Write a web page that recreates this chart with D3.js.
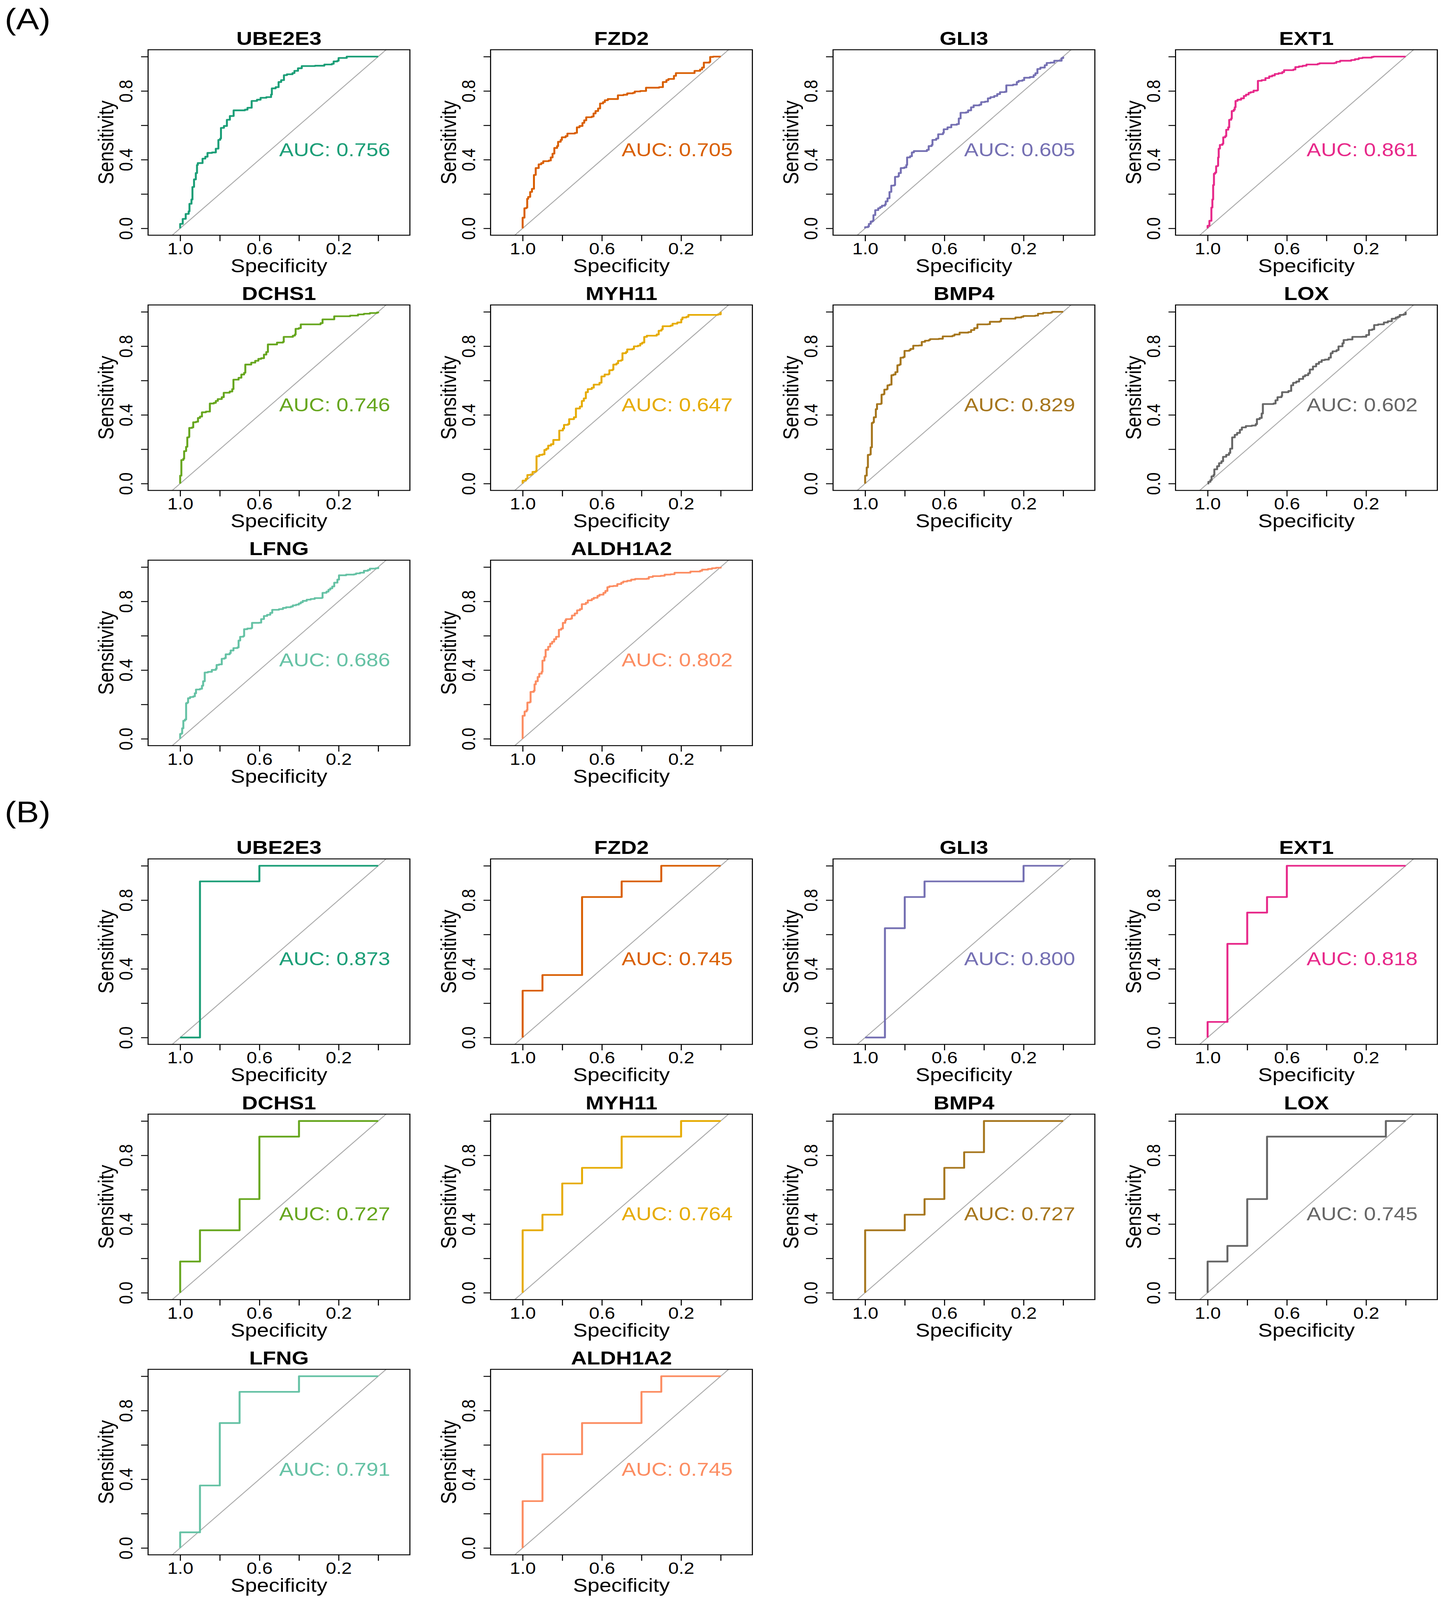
<!DOCTYPE html>
<html>
<head>
<meta charset="utf-8">
<script src="https://cdnjs.cloudflare.com/ajax/libs/d3/7.8.5/d3.min.js"></script>
<style>
  html, body { margin: 0; padding: 0; background: #fff; overflow: hidden; }
  svg { display: block; font-family: "Liberation Sans", Arial, Helvetica, sans-serif; }
</style>
</head>
<body>
<div id="chart"></div>
<script>
// gene panels, same order in (A) and (B)
var genes = ["UBE2E3", "FZD2", "GLI3", "EXT1", "DCHS1", "MYH11", "BMP4", "LOX", "LFNG", "ALDH1A2"]
var aucA = ["0.756", "0.705", "0.605", "0.861", "0.746", "0.647", "0.829", "0.602", "0.686", "0.802"]
var aucB = ["0.873", "0.745", "0.800", "0.818", "0.727", "0.764", "0.727", "0.745", "0.791", "0.745"]
var palette = ["#1B9E77", "#D95F02", "#7570B3", "#E7298A", "#66A61E", "#E6AB02", "#A6761D", "#666666", "#66C2A5", "#FC8D62"]

var specTicks = [1.0, 0.8, 0.6, 0.4, 0.2, 0.0]
var specLabels = [1.0, 0.6, 0.2]
var sensTicks = [0.0, 0.2, 0.4, 0.6, 0.8, 1.0]
var sensLabels = [0.0, 0.4, 0.8]

// ROC points [specificity, sensitivity], (A) set
var rocA_UBE2E3 = [[1,0],[1,.026],[.987,.055],[.972,.084],[.957,.099],[.953,.143],[.943,.168],[.938,.241],[.930,.285],[.921,.322],[.915,.369],[.911,.380],[.892,.380],[.887,.406],[.873,.417],[.862,.439],[.839,.442],[.820,.464],[.807,.515],[.798,.523],[.794,.585],[.779,.596],[.764,.632],[.749,.654],[.730,.687],[.673,.691],[.660,.702],[.647,.702],[.639,.742],[.612,.749],[.594,.760],[.565,.764],[.541,.779],[.537,.815],[.518,.822],[.503,.852],[.490,.863],[.476,.892],[.461,.897],[.433,.904],[.423,.917],[.405,.932],[.386,.945],[.319,.947],[.272,.954],[.234,.958],[.225,.972],[.206,.976],[.200,.992],[.159,.994],[.159,1],[0,1]]
var rocA_FZD2 = [[1,0],[1,.062],[.991,.069],[.991,.117],[.981,.121],[.977,.172],[.972,.183],[.962,.212],[.953,.230],[.943,.311],[.934,.318],[.934,.351],[.919,.373],[.906,.380],[.896,.391],[.868,.395],[.858,.413],[.849,.435],[.840,.468],[.826,.479],[.821,.504],[.808,.515],[.802,.530],[.783,.537],[.774,.552],[.736,.556],[.726,.588],[.713,.596],[.698,.614],[.689,.629],[.679,.647],[.651,.651],[.642,.669],[.632,.683],[.619,.698],[.609,.727],[.594,.735],[.585,.746],[.570,.753],[.528,.753],[.519,.775],[.491,.778],[.472,.786],[.443,.789],[.434,.797],[.406,.800],[.377,.819],[.311,.822],[.292,.852],[.274,.863],[.264,.870],[.236,.888],[.226,.904],[.142,.904],[.132,.917],[.104,.925],[.094,.936],[.085,.965],[.057,.969],[.053,.998],[.038,1],[0,1]]
var rocA_GLI3 = [[1,0],[1,.007],[.985,.011],[.981,.026],[.972,.040],[.962,.044],[.958,.077],[.949,.106],[.934,.117],[.924,.124],[.915,.132],[.900,.139],[.896,.157],[.887,.175],[.877,.212],[.868,.249],[.853,.252],[.849,.300],[.834,.303],[.830,.322],[.820,.351],[.802,.355],[.792,.369],[.788,.413],[.773,.420],[.764,.442],[.754,.450],[.688,.457],[.679,.479],[.664,.486],[.660,.515],[.641,.523],[.631,.548],[.607,.556],[.603,.577],[.584,.588],[.565,.603],[.537,.607],[.527,.640],[.518,.673],[.490,.676],[.480,.687],[.465,.705],[.452,.716],[.423,.720],[.414,.735],[.395,.738],[.380,.757],[.367,.764],[.348,.771],[.333,.782],[.319,.793],[.295,.795],[.287,.833],[.253,.837],[.234,.852],[.225,.859],[.206,.863],[.197,.877],[.168,.881],[.149,.892],[.140,.903],[.130,.928],[.115,.936],[.093,.950],[.083,.963],[.064,.965],[.045,.976],[.017,.976],[.008,.991],[0,1]]
var rocA_EXT1 = [[1,0],[1,.015],[.991,.026],[.991,.044],[.981,.121],[.976,.168],[.972,.252],[.968,.318],[.962,.325],[.957,.362],[.949,.365],[.947,.413],[.944,.464],[.938,.486],[.925,.493],[.921,.530],[.911,.537],[.906,.574],[.896,.588],[.891,.632],[.881,.640],[.878,.683],[.868,.691],[.863,.705],[.859,.742],[.849,.749],[.831,.757],[.817,.771],[.806,.779],[.793,.789],[.783,.793],[.768,.802],[.750,.804],[.746,.859],[.727,.863],[.708,.875],[.689,.885],[.674,.890],[.661,.899],[.642,.903],[.623,.910],[.614,.921],[.567,.925],[.557,.939],[.539,.943],[.520,.947],[.501,.954],[.444,.958],[.435,.961],[.360,.963],[.350,.970],[.331,.976],[.275,.980],[.256,.985],[.237,.991],[.218,.994],[.171,.998],[.162,1],[0,1]]
var rocA_DCHS1 = [[1,0],[1,.046],[.994,.050],[.994,.137],[.984,.145],[.980,.189],[.970,.214],[.964,.269],[.956,.273],[.954,.324],[.940,.327],[.934,.357],[.920,.360],[.910,.382],[.900,.390],[.890,.415],[.870,.419],[.850,.466],[.830,.470],[.820,.481],[.810,.492],[.790,.503],[.780,.529],[.750,.536],[.737,.550],[.731,.605],[.705,.616],[.691,.635],[.677,.645],[.671,.693],[.641,.704],[.621,.715],[.605,.726],[.591,.730],[.577,.751],[.565,.766],[.557,.810],[.511,.821],[.481,.825],[.477,.854],[.431,.861],[.421,.868],[.417,.901],[.401,.905],[.391,.927],[.291,.934],[.281,.956],[.222,.963],[.222,.974],[.162,.974],[.142,.978],[.102,.985],[.072,.989],[.042,.993],[.006,.996],[0,1]]
var rocA_MYH11 = [[1,0],[1,.017],[.984,.028],[.976,.050],[.960,.053],[.950,.068],[.934,.072],[.930,.159],[.916,.167],[.900,.170],[.890,.196],[.880,.203],[.871,.221],[.857,.229],[.845,.254],[.825,.254],[.815,.309],[.797,.320],[.791,.342],[.771,.346],[.765,.375],[.741,.386],[.731,.437],[.711,.448],[.701,.481],[.691,.496],[.681,.532],[.671,.550],[.651,.558],[.641,.576],[.612,.587],[.602,.624],[.586,.635],[.566,.638],[.562,.660],[.546,.664],[.542,.693],[.526,.700],[.518,.715],[.502,.719],[.496,.759],[.478,.766],[.472,.781],[.446,.784],[.438,.799],[.418,.803],[.406,.814],[.396,.821],[.386,.854],[.373,.861],[.323,.868],[.313,.890],[.299,.898],[.293,.916],[.253,.920],[.243,.931],[.219,.938],[.199,.956],[.193,.967],[.173,.971],[.163,.982],[.014,.985],[0,1]]
var rocA_BMP4 = [[1,0],[1,.046],[.992,.050],[.992,.094],[.986,.097],[.986,.167],[.976,.170],[.972,.211],[.966,.214],[.966,.353],[.960,.357],[.956,.386],[.946,.390],[.946,.433],[.940,.437],[.940,.463],[.920,.466],[.917,.518],[.907,.521],[.903,.547],[.891,.550],[.887,.572],[.877,.576],[.867,.631],[.857,.635],[.847,.649],[.837,.689],[.827,.693],[.821,.733],[.807,.737],[.801,.773],[.777,.777],[.771,.784],[.757,.803],[.728,.804],[.714,.825],[.698,.832],[.678,.836],[.672,.841],[.628,.843],[.608,.857],[.559,.861],[.549,.868],[.523,.879],[.479,.882],[.465,.894],[.449,.905],[.433,.927],[.380,.928],[.370,.942],[.320,.945],[.314,.960],[.250,.960],[.241,.967],[.211,.971],[.201,.976],[.141,.978],[.127,.989],[.101,.994],[.062,.996],[.056,1],[0,1]]
var rocA_LOX = [[1,0],[.996,.010],[.986,.020],[.980,.042],[.970,.050],[.966,.083],[.952,.101],[.942,.119],[.930,.130],[.922,.156],[.906,.167],[.892,.178],[.886,.203],[.876,.269],[.863,.284],[.851,.295],[.837,.313],[.827,.327],[.807,.335],[.777,.338],[.757,.346],[.751,.375],[.737,.382],[.727,.408],[.721,.463],[.667,.466],[.657,.485],[.647,.503],[.627,.510],[.624,.532],[.592,.539],[.578,.572],[.568,.587],[.552,.594],[.538,.609],[.518,.624],[.508,.631],[.492,.642],[.484,.664],[.468,.682],[.452,.697],[.438,.708],[.424,.719],[.408,.722],[.388,.733],[.378,.759],[.369,.770],[.349,.777],[.339,.799],[.319,.817],[.313,.836],[.293,.839],[.269,.854],[.219,.855],[.199,.865],[.185,.894],[.169,.898],[.159,.923],[.139,.927],[.110,.938],[.090,.945],[.070,.960],[.050,.967],[.040,.971],[.030,.982],[.010,.985],[0,1]]
var rocA_LFNG = [[1,0],[1,.028],[.994,.031],[.990,.061],[.984,.064],[.984,.105],[.976,.112],[.970,.207],[.964,.211],[.960,.236],[.950,.243],[.934,.247],[.926,.265],[.920,.287],[.900,.291],[.890,.309],[.884,.335],[.876,.386],[.860,.390],[.840,.401],[.820,.408],[.816,.430],[.804,.433],[.790,.466],[.776,.470],[.770,.492],[.750,.499],[.745,.514],[.731,.528],[.711,.532],[.705,.572],[.697,.594],[.681,.598],[.677,.638],[.661,.642],[.641,.645],[.637,.675],[.601,.676],[.591,.697],[.577,.715],[.561,.722],[.545,.733],[.535,.751],[.501,.755],[.481,.762],[.465,.766],[.441,.770],[.431,.777],[.415,.781],[.401,.788],[.391,.795],[.381,.803],[.361,.810],[.341,.814],[.321,.819],[.285,.821],[.281,.850],[.261,.857],[.251,.868],[.242,.876],[.232,.887],[.222,.909],[.206,.927],[.198,.952],[.162,.956],[.122,.958],[.112,.963],[.092,.967],[.072,.978],[.052,.983],[.042,.991],[.012,.993],[0,1]]
var rocA_ALDH1A2 = [[1,0],[1,.134],[.990,.141],[.990,.159],[.980,.167],[.976,.211],[.964,.214],[.960,.273],[.944,.280],[.940,.317],[.934,.335],[.924,.360],[.916,.379],[.904,.390],[.900,.455],[.890,.477],[.884,.518],[.871,.536],[.861,.554],[.851,.565],[.841,.580],[.831,.594],[.817,.635],[.805,.642],[.797,.675],[.785,.689],[.781,.697],[.757,.700],[.751,.718],[.737,.730],[.725,.748],[.711,.755],[.701,.784],[.681,.792],[.671,.806],[.651,.814],[.641,.821],[.622,.832],[.612,.839],[.592,.850],[.582,.861],[.572,.883],[.562,.888],[.542,.890],[.522,.901],[.502,.909],[.492,.916],[.472,.920],[.452,.927],[.432,.931],[.373,.932],[.363,.942],[.343,.947],[.303,.949],[.283,.956],[.253,.958],[.233,.967],[.163,.967],[.153,.974],[.104,.978],[.094,.985],[.064,.989],[.044,.993],[.024,.996],[0,1]]

// ROC points [specificity, sensitivity], (B) set
var rocB_UBE2E3 = [[1,0],[.9,0],[.9,10/11],[.6,10/11],[.6,1],[0,1]]
var rocB_FZD2 = [[1,0],[1,3/11],[.9,3/11],[.9,4/11],[.7,4/11],[.7,9/11],[.5,9/11],[.5,10/11],[.3,10/11],[.3,1],[0,1]]
var rocB_GLI3 = [[1,0],[.9,0],[.9,7/11],[.8,7/11],[.8,9/11],[.7,9/11],[.7,10/11],[.2,10/11],[.2,1],[0,1]]
var rocB_EXT1 = [[1,0],[1,1/11],[.9,1/11],[.9,6/11],[.8,6/11],[.8,8/11],[.7,8/11],[.7,9/11],[.6,9/11],[.6,1],[0,1]]
var rocB_DCHS1 = [[1,0],[1,2/11],[.9,2/11],[.9,4/11],[.7,4/11],[.7,6/11],[.6,6/11],[.6,10/11],[.4,10/11],[.4,1],[0,1]]
var rocB_MYH11 = [[1,0],[1,4/11],[.9,4/11],[.9,5/11],[.8,5/11],[.8,7/11],[.7,7/11],[.7,8/11],[.5,8/11],[.5,10/11],[.2,10/11],[.2,1],[0,1]]
var rocB_BMP4 = [[1,0],[1,4/11],[.8,4/11],[.8,5/11],[.7,5/11],[.7,6/11],[.6,6/11],[.6,8/11],[.5,8/11],[.5,9/11],[.4,9/11],[.4,1],[0,1]]
var rocB_LOX = [[1,0],[1,2/11],[.9,2/11],[.9,3/11],[.8,3/11],[.8,6/11],[.7,6/11],[.7,10/11],[.1,10/11],[.1,1],[0,1]]
var rocB_LFNG = [[1,0],[1,1/11],[.9,1/11],[.9,4/11],[.8,4/11],[.8,8/11],[.7,8/11],[.7,10/11],[.4,10/11],[.4,1],[0,1]]
var rocB_ALDH1A2 = [[1,0],[1,3/11],[.9,3/11],[.9,6/11],[.7,6/11],[.7,8/11],[.4,8/11],[.4,10/11],[.3,10/11],[.3,1],[0,1]]

var curvesA = [rocA_UBE2E3, rocA_FZD2, rocA_GLI3, rocA_EXT1, rocA_DCHS1, rocA_MYH11, rocA_BMP4, rocA_LOX, rocA_LFNG, rocA_ALDH1A2]
var curvesB = [rocB_UBE2E3, rocB_FZD2, rocB_GLI3, rocB_EXT1, rocB_DCHS1, rocB_MYH11, rocB_BMP4, rocB_LOX, rocB_LFNG, rocB_ALDH1A2]

// drawing is laid out on the 3693 x 4710 sheet; the viewBox fits it to the window,
// which the browser may clamp to a smaller height
var W = 3693, H = 4710
var boxW = 670, boxH = 546
var vw = window.innerWidth || W, vh = window.innerHeight || H

var svg = d3.select("#chart")
  .append("svg")
    .attr("width", vw)
    .attr("height", vh)
    .attr("viewBox", "0 0 " + W + " " + H)
    .attr("preserveAspectRatio", "none")

svg.append("rect").attr("width", W).attr("height", H).attr("fill", "#fff")

// one clip rect in panel coordinates, shared by every panel
svg.append("defs").append("clipPath")
    .attr("id", "boxclip")
  .append("rect")
    .attr("width", boxW)
    .attr("height", boxH)

// pROC style axes: specificity reversed, 4% padding on sensitivity
var x = d3.scaleLinear().domain([1.162, -0.160]).range([0, boxW])
var y = d3.scaleLinear().domain([-0.04, 1.04]).range([boxH, 0])

var line = d3.line()
  .x(function(d) { return x(d[0]) })
  .y(function(d) { return y(d[1]) })
  .curve(d3.curveStepAfter)

function panel (setIdx, i, pts, auc) {
  var col = i % 4, row = Math.floor(i / 4)
  var left = 379 + col * 876.5
  var top = 146.4 + setIdx * 2382 + row * 751.3
  var color = palette[i]

  var g = svg.append("g")
    .attr("transform", "translate(" + left + "," + top + ")")

  // identity line
  g.append("line")
    .attr("clip-path", "url(#boxclip)")
    .attr("x1", x(1.3)).attr("y1", y(-0.3))
    .attr("x2", x(-0.3)).attr("y2", y(1.3))
    .attr("stroke", "#a9a9a9")
    .attr("stroke-width", 2.5)

  g.append("path")
    .datum(pts)
    .attr("d", line)
    .attr("fill", "none")
    .attr("stroke", color)
    .attr("stroke-width", 5)
    .attr("stroke-linejoin", "round")

  g.append("rect")
    .attr("width", boxW)
    .attr("height", boxH)
    .attr("fill", "none")
    .attr("stroke", "#000")
    .attr("stroke-width", 2.7)

  // x axis
  var xa = g.append("g")
    .attr("transform", "translate(0," + boxH + ")")
    .call(d3.axisBottom(x).tickValues(specTicks).tickSize(17.5)
      .tickFormat(function(d) { return specLabels.indexOf(d) >= 0 ? d3.format(".1f")(d) : "" }))
  xa.select(".domain").remove()
  xa.selectAll(".tick line").attr("stroke", "#000").attr("stroke-width", 2.7)
  xa.selectAll(".tick text")
    .attr("y", 56).attr("dy", 0)
    .attr("fill", "#000")
    .style("font-size", "48px")
    .style("font-family", "Liberation Sans, Arial, sans-serif")

  // y axis, labels parallel to the axis
  var ya = g.append("g")
    .call(d3.axisLeft(y).tickValues(sensTicks).tickSize(18)
      .tickFormat(function(d) { return sensLabels.indexOf(d) >= 0 ? d3.format(".1f")(d) : "" }))
  ya.select(".domain").remove()
  ya.selectAll(".tick line").attr("stroke", "#000").attr("stroke-width", 2.7)
  ya.selectAll(".tick text")
    .attr("transform", "rotate(-90)")
    .attr("x", 0).attr("y", -40).attr("dy", 0)
    .attr("text-anchor", "middle")
    .attr("fill", "#000")
    .style("font-size", "48px")
    .style("font-family", "Liberation Sans, Arial, sans-serif")

  g.append("text")
    .attr("x", boxW / 2)
    .attr("y", -14.5)
    .attr("text-anchor", "middle")
    .style("font-size", "56px")
    .style("font-weight", "bold")
    .text(genes[i])

  g.append("text")
    .attr("x", boxW / 2)
    .attr("y", boxH + 109)
    .attr("text-anchor", "middle")
    .style("font-size", "55px")
    .text("Specificity")

  g.append("text")
    .attr("transform", "translate(-89," + (boxH / 2) + ") rotate(-90)")
    .attr("text-anchor", "middle")
    .style("font-size", "55px")
    .text("Sensitivity")

  g.append("text")
    .attr("x", x(0.5))
    .attr("y", y(0.5) + 40)
    .attr("fill", color)
    .style("font-size", "55px")
    .text("AUC: " + auc)
}

curvesA.forEach(function(pts, i) { panel(0, i, pts, aucA[i]) })
curvesB.forEach(function(pts, i) { panel(1, i, pts, aucB[i]) })

svg.append("text").attr("x", 12).attr("y", 86).style("font-size", "88px").text("(A)")
svg.append("text").attr("x", 12).attr("y", 2420).style("font-size", "88px").text("(B)")
</script>
</body>
</html>
